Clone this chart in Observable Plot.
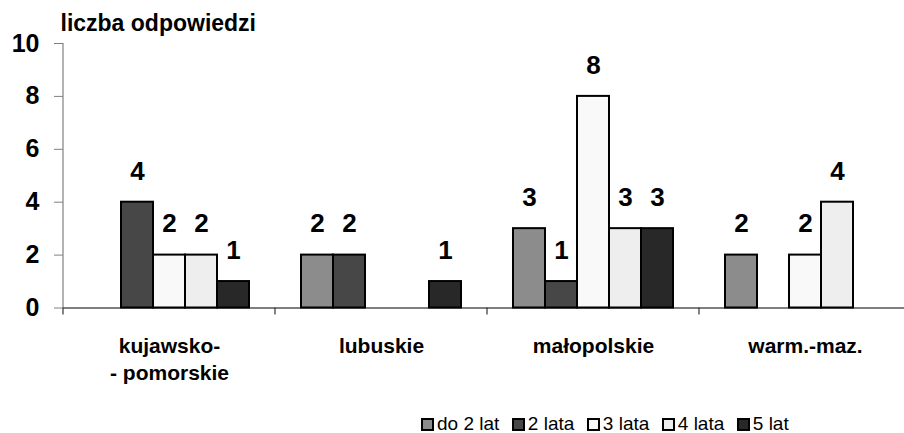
<!DOCTYPE html>
<html>
<head>
<meta charset="utf-8">
<script src="https://cdn.jsdelivr.net/npm/d3@7"></script>
<script src="https://cdn.jsdelivr.net/npm/@observablehq/plot@0.6"></script>
<style>
  html, body { margin: 0; padding: 0; background: #fff; }
  #chart svg { display: block; }
  #legend { display: flex; align-items: center; height: 18px; line-height: 18px;
    font-family: "Liberation Sans", Arial, sans-serif; font-size: 19px; color: #000; }
  #legend .item { display: flex; align-items: center; margin-right: 12.5px; }
  #legend .sw { width: 9px; height: 9px; border: 2px solid #000; margin-right: 3px; }
</style>
</head>
<body>
<div id="chart"></div>
<div id="legend"></div>
<script>
const regions = ["kujawsko-pomorskie", "lubuskie", "małopolskie", "warm.-maz."];
const regionLabels = ["kujawsko-\n- pomorskie", "lubuskie", "małopolskie", "warm.-maz."];
const series = ["do 2 lat", "2 lata", "3 lata", "4 lata", "5 lat"];
const colors = ["#8c8c8c", "#474747", "#f9f9f9", "#eeeeee", "#282828"];
const do2lat = [null, 2, 3, 2];
const lata2 = [4, 2, 1, null];
const lata3 = [2, null, 8, 2];
const lata4 = [2, null, 3, 4];
const lat5 = [1, 1, 3, null];
const yTicks = [0, 2, 4, 6, 8, 10];
const yTitle = "liczba odpowiedzi";

const seriesValues = [do2lat, lata2, lata3, lata4, lat5];
const data = [];
seriesValues.forEach((vals, j) => vals.forEach((v, i) => {
  if (v != null) data.push({region: regions[i], series: series[j], value: v});
}));

const font = "Liberation Sans, Arial, sans-serif";
const chart = Plot.plot({
  width: 904, height: 415,
  marginLeft: 62, marginRight: 0, marginTop: 43, marginBottom: 107.5,
  style: {fontFamily: font, fontSize: "25px", fontWeight: "bold", background: "white", color: "black"},
  fx: {domain: regions, range: [62, 912], padding: 0, axis: null},
  x: {domain: series, paddingInner: 0, paddingOuter: 0.72, axis: null},
  y: {domain: [0, 10], ticks: yTicks, tickSize: 9, tickPadding: 15, label: null, tickFormat: d => String(d)},
  color: {domain: series, range: colors},
  marks: [
    Plot.barY(data, {fx: "region", x: "series", y: "value", fill: "series", stroke: "black", strokeWidth: 2}),
    Plot.ruleY([0], {stroke: "black", strokeWidth: 1.2}),
    Plot.text(data, {fx: "region", x: "series", y: "value", text: d => String(d.value),
      dy: -31, lineAnchor: "middle", fontSize: 26, fontWeight: "bold", fill: "black"}),
    Plot.text(regions, {fx: d => d, text: d => regionLabels[regions.indexOf(d)],
      frameAnchor: "bottom", dy: 25.5, lineAnchor: "top", lineHeight: 1.29,
      fontSize: 21, fontWeight: "bold", fill: "black"}),
    Plot.text([yTitle], {fx: () => regions[0], text: d => d, frameAnchor: "top-left",
      textAnchor: "start", lineAnchor: "middle", dx: -3, dy: -20, fontSize: 23, fontWeight: "bold", fill: "black"})
  ]
});

// style y axis ticks gray, add axis line and category separators from the library's scales
const svg = d3.select(chart);
svg.selectAll("g[aria-label^='y-axis'] path, g[aria-label^='y-axis'] line").attr("stroke", "#808080");
const fxs = chart.scale("fx");
const ys = chart.scale("y");
const y0 = ys.apply(0), y10 = ys.apply(10);
const x0 = fxs.apply(regions[0]);
const g = svg.append("g").attr("stroke-width", 1.2);
g.append("line").attr("x1", x0).attr("x2", x0).attr("y1", y10).attr("y2", y0).attr("stroke", "#808080");
regions.forEach(r => {
  const xx = fxs.apply(r);
  g.append("line").attr("x1", xx).attr("x2", xx).attr("y1", y0).attr("y2", y0 + 7).attr("stroke", "#333");
});

document.getElementById("chart").appendChild(chart);

const legend = document.getElementById("legend");
legend.style.paddingLeft = "421px";
series.forEach((s, j) => {
  const item = document.createElement("div");
  item.className = "item";
  const sw = document.createElement("div");
  sw.className = "sw";
  sw.style.background = colors[j];
  const lab = document.createElement("span");
  lab.textContent = s;
  item.appendChild(sw);
  item.appendChild(lab);
  legend.appendChild(item);
});
</script>
</body>
</html>
